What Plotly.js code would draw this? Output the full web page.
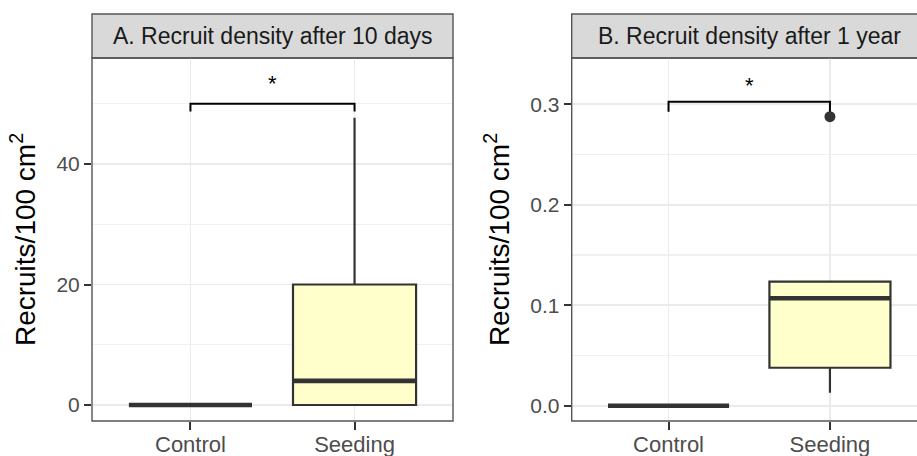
<!DOCTYPE html>
<html>
<head>
<meta charset="utf-8">
<script src="https://cdn.plot.ly/plotly-3.0.1.min.js"></script>
<style>html,body{margin:0;padding:0;background:#fff}#chart{width:917px;height:456px}</style>
</head>
<body>
<div id="chart"></div>
<script>
// ---- data ----
const categories = ['Control', 'Seeding'];
const panelTitles = ['A. Recruit density after 10 days', 'B. Recruit density after 1 year'];

// Panel A: recruit density after 10 days (Recruits/100 cm^2)
const a_lower  = [0, 0];
const a_q1     = [0, 0];
const a_median = [0, 4];
const a_q3     = [0, 20];
const a_upper  = [0, 47.7];
const a_outliers = [[], []];
const a_bracket = 50;
const a_bracketTip = 48.7;
const a_star = 53.3;

// Panel B: recruit density after 1 year
const b_lower  = [0, 0.0129];
const b_q1     = [0, 0.0378];
const b_median = [0, 0.107];
const b_q3     = [0, 0.1234];
const b_upper  = [0, 0.1234];
const b_outliers = [[], [0.2876]];
const b_bracket = 0.3025;
const b_bracketTip = 0.2925;
const b_star = 0.319;

const aTicks = [0, 20, 40];
const bTicks = [0, 0.1, 0.2, 0.3];
const bTickText = ['0.0', '0.1', '0.2', '0.3'];
const signif = '*';

// ---- styling ----
const FONT = 'Liberation Sans, Arial, Helvetica, sans-serif';
const boxFill = '#ffffcc';
const dark = '#333333';
const boxW = 0.75;
const pos = categories.map((c, i) => i + 1);

function panelTraces(lower, q1, med, q3, upper, outl, br, tip, xa, ya) {
  const tr = [];
  categories.forEach((c, i) => {
    tr.push({
      type: 'box', x: [pos[i]], q1: [q1[i]], median: [med[i]], q3: [q3[i]],
      lowerfence: [lower[i]], upperfence: [upper[i]],
      width: boxW, whiskerwidth: 0, boxpoints: false,
      fillcolor: boxFill, line: {color: dark, width: 2.2},
      xaxis: xa, yaxis: ya, hoverinfo: 'skip', showlegend: false
    });
  });
  // thick median lines (ggplot style)
  const mx = [], my = [];
  categories.forEach((c, i) => {
    mx.push(pos[i] - boxW / 2, pos[i] + boxW / 2, null);
    my.push(med[i], med[i], null);
  });
  tr.push({type: 'scatter', mode: 'lines', x: mx, y: my, line: {color: dark, width: 4.6},
           xaxis: xa, yaxis: ya, hoverinfo: 'skip', showlegend: false});
  // outliers
  const ox = [], oy = [];
  categories.forEach((c, i) => { outl[i].forEach(v => { ox.push(pos[i]); oy.push(v); }); });
  if (ox.length) tr.push({type: 'scatter', mode: 'markers', x: ox, y: oy,
           marker: {color: dark, size: 11}, xaxis: xa, yaxis: ya, hoverinfo: 'skip', showlegend: false});
  // significance bracket
  tr.push({type: 'scatter', mode: 'lines', x: [pos[0], pos[0], pos[1], pos[1]], y: [tip, br, br, tip],
           line: {color: '#000', width: 2}, xaxis: xa, yaxis: ya, hoverinfo: 'skip', showlegend: false});
  return tr;
}

const traces = [].concat(
  panelTraces(a_lower, a_q1, a_median, a_q3, a_upper, a_outliers, a_bracket, a_bracketTip, 'x', 'y'),
  panelTraces(b_lower, b_q1, b_median, b_q3, b_upper, b_outliers, b_bracket, b_bracketTip, 'x2', 'y2')
);

const W = 917, H = 456;
const px = v => v / W, py = v => 1 - v / H;
const yDom = [py(421), py(58)];
const aDom = [px(92), px(453)];
const bDom = [px(571.7), 1];

const xCommon = {
  tickvals: pos, ticktext: categories, showgrid: true, gridcolor: '#ebebeb', gridwidth: 1.8,
  zeroline: false, ticks: 'outside', ticklen: 8, tickwidth: 2, tickcolor: dark, ticklabelstandoff: -4,
  tickfont: {family: FONT, size: 22, color: '#4d4d4d'}, showline: false
};
const yCommon = {
  showgrid: true, gridcolor: '#ebebeb', gridwidth: 1.8, zeroline: false,
  ticks: 'outside', ticklen: 7, tickwidth: 2, tickcolor: dark,
  tickfont: {family: FONT, size: 21, color: '#4d4d4d'}, showline: false,
  title: {text: 'Recruits/100 cm<sup>2</sup>', font: {family: FONT, size: 28, color: '#000'}, standoff: 12}
};

const layout = {
  width: W, height: H, margin: {l: 0, r: 0, t: 0, b: 0},
  paper_bgcolor: '#fff', plot_bgcolor: '#fff', showlegend: false,
  xaxis: Object.assign({}, xCommon, {domain: aDom, range: [0.4, 2.6], anchor: 'y'}),
  yaxis: Object.assign({}, yCommon, {domain: yDom, range: [-2.66, 57.6], tickvals: aTicks,
          minor: {dtick: 10, showgrid: true, gridcolor: '#f0f0f0', gridwidth: 1.2}, anchor: 'x'}),
  xaxis2: Object.assign({}, xCommon, {domain: bDom, range: [0.4, 0.4 + (917 - 571.7) / 161.4], anchor: 'y2'}),
  yaxis2: Object.assign({}, yCommon, {domain: yDom, range: [-0.0152, 0.346], tickvals: bTicks, ticktext: bTickText,
          minor: {dtick: 0.05, showgrid: true, gridcolor: '#f0f0f0', gridwidth: 1.2}, anchor: 'x2'}),
  shapes: [
    // panel borders
    {type: 'rect', xref: 'paper', yref: 'paper', x0: aDom[0], x1: aDom[1], y0: yDom[0], y1: yDom[1],
     line: {color: '#555', width: 1.4}, fillcolor: 'rgba(0,0,0,0)', layer: 'above'},
    {type: 'rect', xref: 'paper', yref: 'paper', x0: bDom[0], x1: px(930), y0: yDom[0], y1: yDom[1],
     line: {color: '#555', width: 1.4}, fillcolor: 'rgba(0,0,0,0)', layer: 'above'},
    // strips
    {type: 'rect', xref: 'paper', yref: 'paper', x0: aDom[0], x1: aDom[1], y0: py(58), y1: py(14),
     line: {color: '#555', width: 1.4}, fillcolor: '#d9d9d9', layer: 'below'},
    {type: 'rect', xref: 'paper', yref: 'paper', x0: bDom[0], x1: px(930), y0: py(58), y1: py(14),
     line: {color: '#555', width: 1.4}, fillcolor: '#d9d9d9', layer: 'below'}
  ],
  annotations: [
    {xref: 'paper', yref: 'paper', x: (aDom[0] + aDom[1]) / 2, y: py(36), text: panelTitles[0], showarrow: false,
     font: {family: FONT, size: 23, color: '#1a1a1a'}, xanchor: 'center', yanchor: 'middle'},
    {xref: 'paper', yref: 'paper', x: px((571.7 + 927) / 2), y: py(36), text: panelTitles[1], showarrow: false,
     font: {family: FONT, size: 23, color: '#1a1a1a'}, xanchor: 'center', yanchor: 'middle'},
    {xref: 'x', yref: 'y', x: (pos[0] + pos[1]) / 2, y: a_star, text: signif, showarrow: false,
     font: {family: FONT, size: 22, color: '#000'}, yanchor: 'middle'},
    {xref: 'x2', yref: 'y2', x: (pos[0] + pos[1]) / 2, y: b_star, text: signif, showarrow: false,
     font: {family: FONT, size: 22, color: '#000'}, yanchor: 'middle'}
  ]
};

Plotly.newPlot('chart', traces, layout, {staticPlot: true, displayModeBar: false});
</script>
</body>
</html>
